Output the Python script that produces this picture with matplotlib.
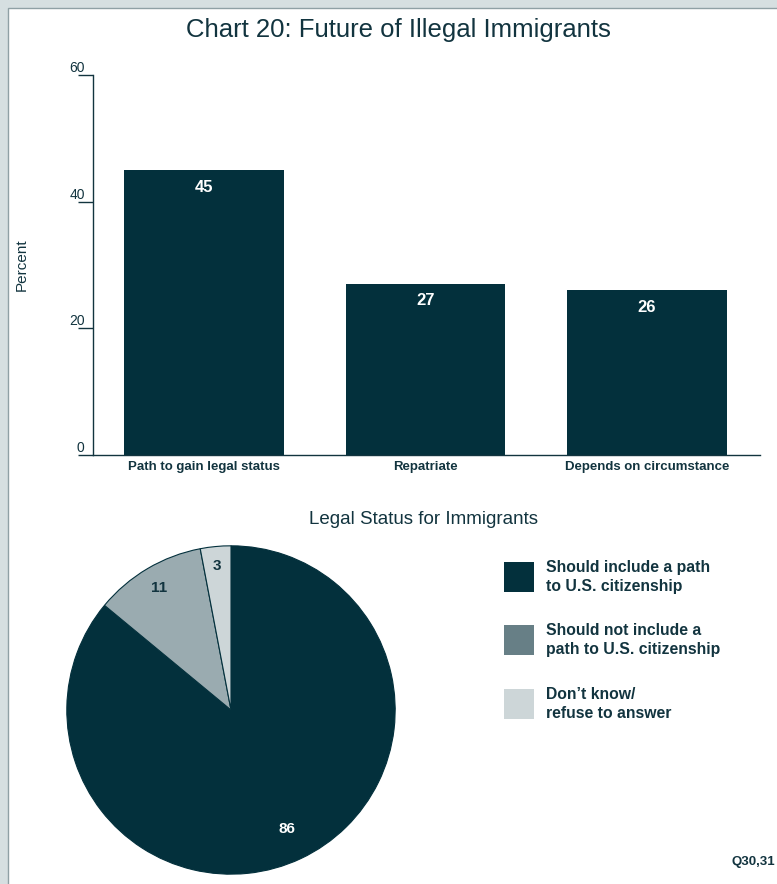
import numpy as np
import matplotlib.pyplot as plt
import matplotlib.patches as mpatches
from matplotlib import rcParams

rcParams["font.family"] = ["Liberation Sans", "DejaVu Sans"]

DARK = "#03303c"
TEXT = "#12343f"
MID = "#9aabb0"
LIGHT = "#cdd6d8"
LEG_MID = "#677f86"
FRAME = "#d6dfe1"

# bar chart data
categories = ["Path to gain legal status", "Repatriate", "Depends on circumstance"]
percents = [45, 27, 26]
y_ticks = [0, 20, 40, 60]

# pie chart data
pie_labels = ["Should include a path\nto U.S. citizenship",
              "Should not include a\npath to U.S. citizenship",
              "Don\u2019t know/\nrefuse to answer"]
pie_values = [86, 11, 3]

W, H = 777, 884
fig = plt.figure(figsize=(W / 100, H / 100), dpi=100)
fig.patch.set_facecolor(FRAME)

# white panel with thin border
panel = mpatches.Rectangle((8 / W, -0.1), 1.2, 1 - 8 / H + 0.1,
                           transform=fig.transFigure, facecolor="white",
                           edgecolor="#8fa0a5", linewidth=1.0, zorder=-10)
fig.patches.append(panel)

fig.text(398 / W, 1 - 30 / H, "Chart 20: Future of Illegal Immigrants",
         ha="center", va="center", fontsize=18.5, color=TEXT)

# --- bar chart --------------------------------------------------------------
ax = fig.add_axes([93 / W, 1 - 455 / H, (760 - 93) / W, 380 / H])
x = np.arange(len(categories))
bars = ax.bar(x, percents, width=0.72, color=DARK)
ax.set_xlim(-0.5, 2.51)
ax.set_ylim(0, 60)
ax.set_facecolor("none")
for s in ["top", "right"]:
    ax.spines[s].set_visible(False)
for s in ["left", "bottom"]:
    ax.spines[s].set_color(TEXT)
    ax.spines[s].set_linewidth(1.0)

ax.set_yticks(y_ticks)
ax.set_yticklabels([str(t) for t in y_ticks])
ax.tick_params(axis="y", direction="out", length=11, width=1.0, color=TEXT,
               pad=-5, labelsize=10, labelcolor=TEXT)
for lab in ax.get_yticklabels():
    lab.set_va("bottom")
ax.set_xticks(x)
ax.set_xticklabels(categories)
ax.tick_params(axis="x", length=0, pad=4, labelsize=9.5, labelcolor=TEXT)
for lab in ax.get_xticklabels():
    lab.set_fontweight("bold")

fig.text(22 / W, 1 - 265 / H, "Percent", rotation=90, ha="center",
         va="center", fontsize=11, color=TEXT)

for bar, v in zip(bars, percents):
    ax.text(bar.get_x() + bar.get_width() / 2, v - 1.5, str(v),
            ha="center", va="top", color="white", fontsize=12,
            fontweight="bold")

# --- pie chart --------------------------------------------------------------
fig.text(424 / W, 1 - 520 / H, "Legal Status for Immigrants",
         ha="center", va="center", fontsize=13.5, color=TEXT)

pax = fig.add_axes([66 / W, 1 - 875 / H, 330 / W, 330 / H])
wedges, _ = pax.pie(pie_values, colors=[DARK, MID, LIGHT], startangle=90,
                    counterclock=False,
                    wedgeprops=dict(edgecolor=DARK, linewidth=0.8))
pax.set_xlim(-1.005, 1.005)
pax.set_ylim(-1.005, 1.005)
pax.set_aspect("equal")
label_r = [0.80, 0.86, 0.88]
label_c = ["white", TEXT, TEXT]
for w, v, r, c in zip(wedges, pie_values, label_r, label_c):
    ang = np.deg2rad((w.theta1 + w.theta2) / 2)
    pax.text(r * np.cos(ang), r * np.sin(ang), str(v), ha="center",
             va="center", color=c, fontsize=11, fontweight="bold")

# legend
leg_colors = [DARK, LEG_MID, LIGHT]
leg_y = [577, 640, 704]
for lbl, col, yc in zip(pie_labels, leg_colors, leg_y):
    fig.patches.append(mpatches.Rectangle(
        (504 / W, 1 - (yc + 15) / H), 30 / W, 30 / H,
        transform=fig.transFigure, facecolor=col, edgecolor="none"))
    fig.text(546 / W, 1 - yc / H, lbl, ha="left", va="center",
             fontsize=11.3, color=TEXT, fontweight="bold", linespacing=1.4)

fig.text(775 / W, 1 - 862 / H, "Q30,31", ha="right", va="center",
         fontsize=9.5, color=TEXT, fontweight="bold")

fig.savefig("out.png", dpi=100, facecolor=FRAME)
